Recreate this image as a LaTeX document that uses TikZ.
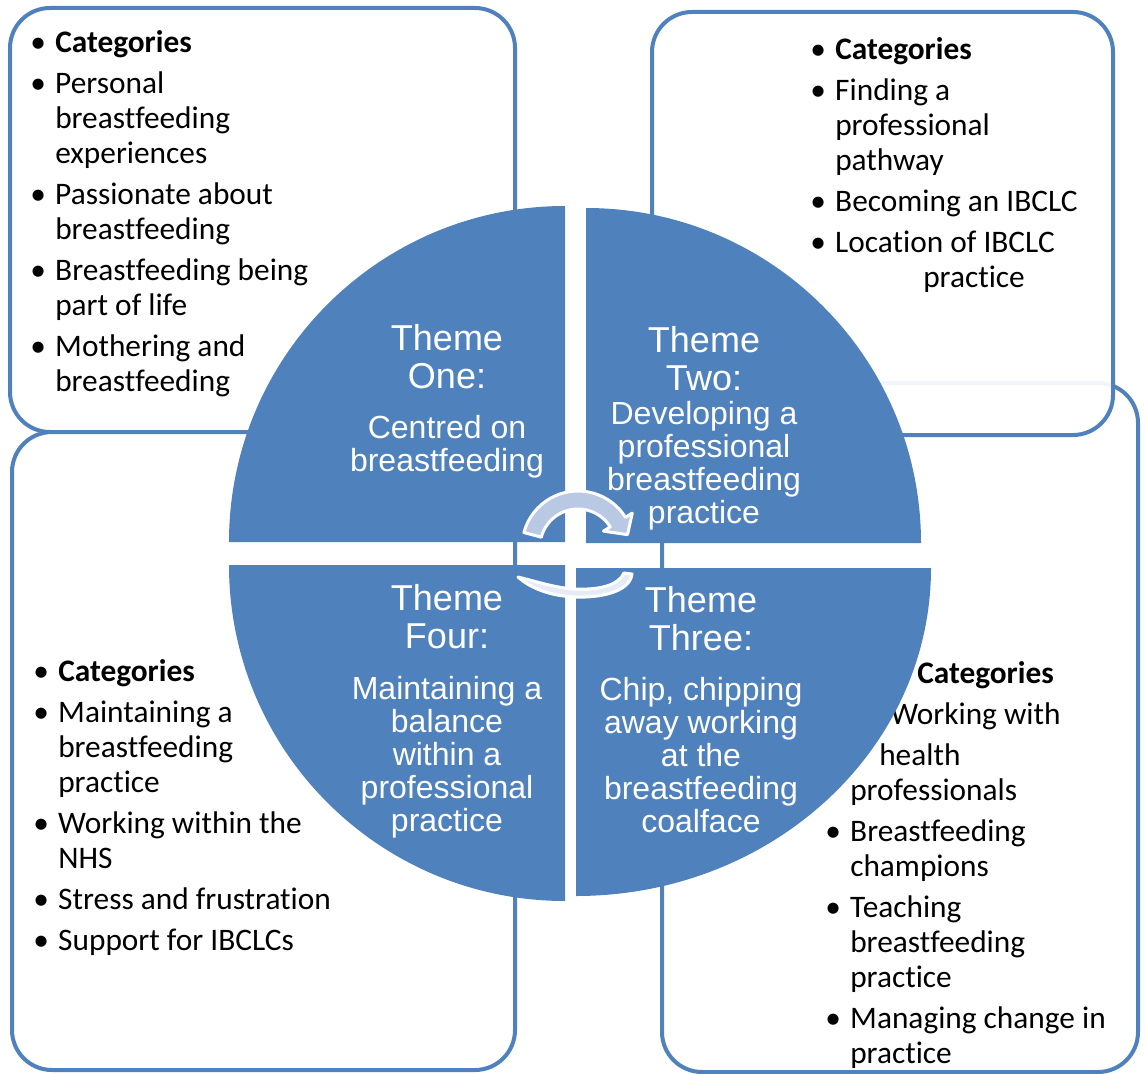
\documentclass[tikz,border=0pt]{standalone}
\usepackage{fontspec}
\setmainfont[Ligatures=NoCommon]{Carlito}
\newfontfamily\themefont{Liberation Sans}
\usetikzlibrary{positioning}
\definecolor{themeblue}{HTML}{4F81BD}
\definecolor{arrowblue}{HTML}{B9C9E3}

\begin{document}
\begin{tikzpicture}[x=0.75pt,y=-0.75pt,
  catbox/.style={draw=themeblue,line width=3pt,rounded corners=30pt,fill=white},
  quad/.style={fill=themeblue},
  cattext/.style={anchor=north west,inner sep=0pt,font=\fontsize{23.5}{26.25}\selectfont},
  themetitle/.style={anchor=north,inner sep=0pt,text=white,align=center,font=\themefont\fontsize{27}{28.5}\selectfont},
  themesub/.style={inner sep=0pt,text=white,align=center,font=\themefont\fontsize{24}{24.75}\selectfont},
  cyclearrow/.style={fill=arrowblue,draw=white,line width=2.25pt,line join=round}]

\useasboundingbox (0,0) rectangle (1146,1074);

% Category boxes
\draw[catbox] (10,8) rectangle (515,432);
\draw[catbox] (12,432) rectangle (515,1070);
\draw[catbox] (662,383) rectangle (1138,1072);
\draw[catbox,fill opacity=0.92] (652,12) rectangle (1113,435);

% Category lists
\node[cattext] (catone) at (30,27.5) {\begin{tabular}{@{}p{18.75pt}@{}l@{}}
\textbullet & \textbf{Categories}\\[4.5pt]
\textbullet & Personal\\
 & breastfeeding\\
 & experiences\\[4.5pt]
\textbullet & Passionate about\\
 & breastfeeding\\[4.5pt]
\textbullet & Breastfeeding being\\
 & part of life\\[4.5pt]
\textbullet & Mothering and\\
 & breastfeeding
\end{tabular}};

\node[cattext] (cattwo) at (810,34.5) {\begin{tabular}{@{}p{18.75pt}@{}l@{}}
\textbullet & \textbf{Categories}\\[4.5pt]
\textbullet & Finding a\\
 & professional\\
 & pathway\\[4.5pt]
\textbullet & Becoming an IBCLC\\[4.5pt]
\textbullet & Location of IBCLC\\
 & \hspace{66pt}practice
\end{tabular}};

\node[cattext] (catfour) at (33,656.5) {\begin{tabular}{@{}p{18.75pt}@{}l@{}}
\textbullet & \textbf{Categories}\\[4.5pt]
\textbullet & Maintaining a\\
 & breastfeeding\\
 & practice\\[4.5pt]
\textbullet & Working within the\\
 & NHS\\[4.5pt]
\textbullet & Stress and frustration\\[4.5pt]
\textbullet & Support for IBCLCs
\end{tabular}};

\node[cattext] (catthree) at (825,658.5) {\begin{tabular}{@{}p{18.75pt}@{}l@{}}
 & \hspace{50.25pt}\textbf{Categories}\\[4.5pt]
 & \hspace{30pt}Working with\\[5pt]
 & \hspace{21.75pt}health\\
 & professionals\\[4.5pt]
\textbullet & Breastfeeding\\
 & champions\\[4.5pt]
\textbullet & Teaching\\
 & breastfeeding\\
 & practice\\[4.5pt]
\textbullet & Managing change in\\
 & practice
\end{tabular}};

% Quadrants
\fill[quad] (565,542) -- ++(-336,0) arc[start angle=180,end angle=270,radius=336] -- cycle;
\fill[quad] (586,543) -- ++(335,0) arc[start angle=0,end angle=-90,radius=335] -- cycle;
\fill[quad] (565,565) -- ++(-336,0) arc[start angle=180,end angle=90,radius=336] -- cycle;
\fill[quad] (576,568) -- ++(355,0) arc[start angle=0,end angle=90,x radius=355,y radius=328] -- cycle;

% Themes
\node[themetitle] (tone) at (447,324) {Theme\\One:};
\node[themesub,below=19.5pt of tone] (sone) {Centred on\\breastfeeding};
\node[themetitle] (ttwo) at (704,326) {Theme\\Two:};
\node[themesub,below=7.5pt of ttwo] (stwo) {Developing a\\professional\\breastfeeding\\practice};
\node[themetitle] (tfour) at (447,584) {Theme\\Four:};
\node[themesub,below=20.25pt of tfour] (sfour) {Maintaining a\\balance\\within a\\professional\\practice};
\node[themetitle] (tthree) at (701,586) {Theme\\Three:};
\node[themesub,below=19.5pt of tthree] (sthree) {Chip, chipping\\away working\\at the\\breastfeeding\\coalface};

% Cycle arrows
\begin{scope}[shift={(578,547)}]
\filldraw[cyclearrow] (195:56) arc[start angle=195,end angle=328,radius=56] -- (328:64) -- (346:51) -- (328:30) -- (328:38) arc[start angle=328,end angle=195,radius=38] -- cycle;
\end{scope}
\filldraw[cyclearrow,fill=arrowblue!35] (632,574) .. controls (630,592) and (600,598) .. (575,597) .. controls (550,596) and (530,588) .. (518,577) .. controls (535,581) and (555,588) .. (575,589) .. controls (598,590) and (618,586) .. (624,573) -- cycle;

\end{tikzpicture}
\end{document}
